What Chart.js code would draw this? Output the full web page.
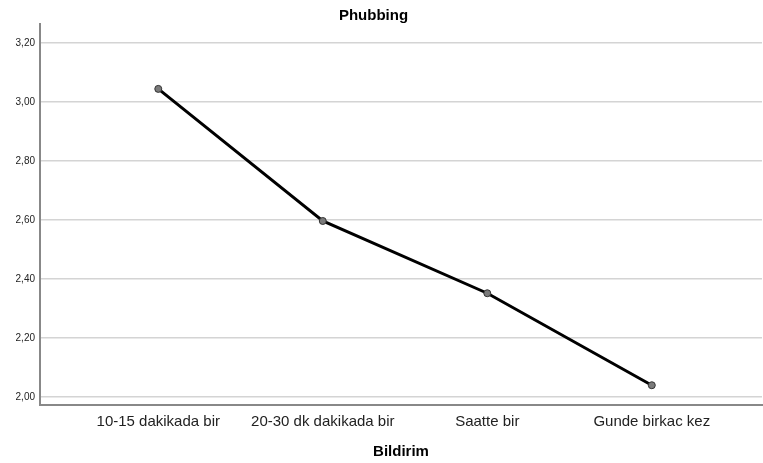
<!DOCTYPE html>
<html>
<head>
<meta charset="utf-8">
<script src="https://cdn.jsdelivr.net/npm/chart.js@4/dist/chart.umd.min.js"></script>
<style>
html,body{margin:0;padding:0;background:#fff;}
#wrap{width:763px;height:463px;}
</style>
</head>
<body>
<div id="wrap"><canvas id="c" width="763" height="463"></canvas></div>
<script>
const categories = ["10-15 dakikada bir", "20-30 dk dakikada bir", "Saatte bir", "Gunde birkac kez"];
const phubbing = [3.045, 2.597, 2.352, 2.040];
const yTicks = [2.0, 2.2, 2.4, 2.6, 2.8, 3.0, 3.2];
const chartTitle = "Phubbing";
const xTitle = "Bildirim";

const points = phubbing.map((v, i) => ({x: i, y: v}));
const font = "'Liberation Sans', Arial, sans-serif";

const titleShift = {
  id: 'titleShift',
  afterLayout(chart) {
    const t = chart.titleBlock;
    if (t) { t.right -= 15; }
  }
};

new Chart(document.getElementById('c'), {
  type: 'line',
  data: {
    datasets: [{
      data: points,
      borderColor: '#000000',
      borderWidth: 3,
      pointRadius: 3.5,
      pointBackgroundColor: '#7a7a7a',
      pointBorderColor: '#333333',
      pointBorderWidth: 1,
      tension: 0
    }]
  },
  plugins: [titleShift],
  options: {
    responsive: false,
    animation: false,
    devicePixelRatio: 1,
    layout: {autoPadding: false, padding: {left: 0, right: 1, top: 0, bottom: 0}},
    plugins: {
      legend: {display: false},
      tooltip: {enabled: false},
      title: {
        display: true,
        text: chartTitle,
        color: '#000',
        font: {family: font, size: 15, weight: 'bold', lineHeight: 1},
        padding: {top: 8, bottom: 1}
      }
    },
    scales: {
      x: {
        type: 'linear',
        min: -0.719,
        max: 3.67,
        afterBuildTicks: s => { s.ticks = categories.map((c, i) => ({value: i})); },
        afterFit: s => { s.height = 58; s.paddingLeft = 0; s.paddingRight = 0; },
        grid: {display: false, drawTicks: false},
        border: {display: true, color: '#888888', width: 2},
        ticks: {
          callback: v => categories[v],
          color: '#222',
          font: {family: font, size: 15},
          padding: 8,
          maxRotation: 0,
          autoSkip: false
        },
        title: {
          display: true,
          text: xTitle,
          color: '#000',
          font: {family: font, size: 15, weight: 'bold'},
          padding: {top: 4, bottom: 2}
        }
      },
      y: {
        min: 1.973,
        max: 3.265,
        afterBuildTicks: s => { s.ticks = yTicks.map(v => ({value: v})); },
        afterFit: s => { s.width = 40; },
        grid: {color: '#d4d4d4', lineWidth: 1.5, drawTicks: false},
        border: {display: true, color: '#888888', width: 2},
        ticks: {
          callback: v => v.toFixed(2).replace('.', ','),
          color: '#222',
          font: {family: font, size: 10},
          padding: 5
        }
      }
    }
  }
});
</script>
</body>
</html>
